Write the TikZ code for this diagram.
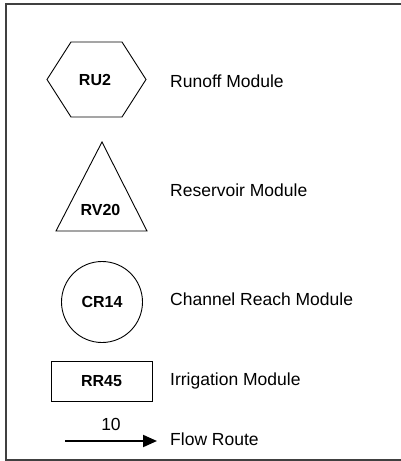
\documentclass[tikz,border=0pt]{standalone}
\usepackage{fontspec}
\setmainfont{Liberation Sans}
\usepackage{tikz}
\usetikzlibrary{positioning, arrows.meta}

\begin{document}
\begin{tikzpicture}[
    x=1pt, y=-1pt,
    frame/.style={draw=black!75, line width=1.5pt},
    outline/.style={draw, line width=0.9pt},
    modname/.style={font=\fontsize{16}{19}\selectfont\bfseries, inner sep=0pt},
    legtext/.style={anchor=base west, inner sep=0pt, font=\fontsize{17.5}{20}\selectfont},
    flowarrow/.style={line width=2pt, -{Triangle[length=14pt, width=12pt]}}
]
\useasboundingbox (0,0) rectangle (401,461);
\draw[frame] (401,4) -- (6,4) -- (6,460) -- (401,460);

% runoff module
\draw[outline] (47,79.5) -- (71,42) -- (122,42) -- (146,79.5) -- (122,117) -- (71,117) -- cycle;
\node[modname, anchor=base] (ru2) at (95,85) {RU2};
\node[legtext] (runoff) at (170,87) {Runoff Module};

% reservoir module
\draw[outline] (102,142) -- (147,231) -- (56,231) -- cycle;
\node[modname, anchor=base] (rv20) at (100.5,215) {RV20};
\node[legtext] (reservoir) at (170,196) {Reservoir Module};

% channel reach module
\node[outline, circle, minimum size=81pt, modname] (cr14) at (102,302) {CR14};
\node[legtext] (channel) at (170,305) {Channel Reach Module};

% irrigation module
\node[outline, rectangle, minimum width=101pt, minimum height=40pt, modname] (rr45) at (101.5,381) {RR45};
\node[legtext] (irrigation) at (170,385) {Irrigation Module};

% flow route
\coordinate (flowstart) at (65,441);
\coordinate (flowend) at (157,441);
\draw[flowarrow] (flowstart) -- (flowend);
\node[legtext, anchor=base] (flownum) at (111,430) {10};
\node[legtext] (flow) at (170,445) {Flow Route};
\end{tikzpicture}
\end{document}
